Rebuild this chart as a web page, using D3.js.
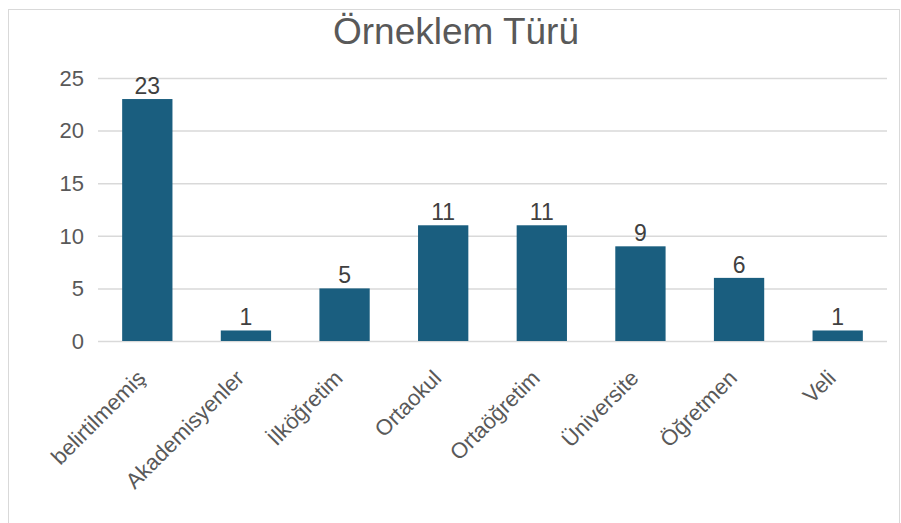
<!DOCTYPE html>
<html>
<head>
<meta charset="utf-8">
<script src="https://cdn.jsdelivr.net/npm/d3@7"></script>
<style>
  body { margin: 0; background: #fff; }
  text { font-family: "Liberation Sans", Arial, sans-serif; }
</style>
</head>
<body>
<div id="vis"></div>
<script>
'use strict'

// data
const categories = ["belirtilmemiş", "Akademisyenler", "İlköğretim", "Ortaokul", "Ortaöğretim", "Üniversite", "Öğretmen", "Veli"];
const counts = [23, 1, 5, 11, 11, 9, 6, 1];
const yTicks = [0, 5, 10, 15, 20, 25];
const title = "Örneklem Türü";

const width = 901, height = 523;
const margin = { top: 78, right: 14, bottom: 182, left: 98 };

const svg = d3.select('#vis').append('svg')
  .attr('width', width)
  .attr('height', height);

// chart border
svg.append('rect')
  .attr('x', 8.5).attr('y', 9.5)
  .attr('width', 891).attr('height', 530)
  .attr('fill', '#fff')
  .attr('stroke', '#d9d9d9');

const x = d3.scaleBand()
  .domain(categories)
  .range([margin.left, width - margin.right])
  .paddingInner(0.49)
  .paddingOuter(0.245);

const y = d3.scaleLinear()
  .domain([0, 25])
  .range([height - margin.bottom, margin.top]);

// gridlines
svg.append('g')
  .selectAll('line')
  .data(yTicks)
  .join('line')
  .attr('x1', margin.left)
  .attr('x2', width - margin.right)
  .attr('y1', d => y(d) + 0.5)
  .attr('y2', d => y(d) + 0.5)
  .attr('stroke', '#d9d9d9')
  .attr('stroke-width', 1.5);

// y tick labels
svg.append('g')
  .selectAll('text')
  .data(yTicks)
  .join('text')
  .attr('x', margin.left - 14)
  .attr('y', d => y(d))
  .attr('dy', '0.35em')
  .attr('text-anchor', 'end')
  .attr('fill', '#595959')
  .attr('font-size', 22)
  .text(d => d);

// bars
svg.append('g')
  .selectAll('rect')
  .data(categories)
  .join('rect')
  .attr('x', d => x(d))
  .attr('y', (d, i) => y(counts[i]))
  .attr('width', x.bandwidth())
  .attr('height', (d, i) => y(0) - y(counts[i]))
  .attr('fill', '#1a5e7f');

// value labels
svg.append('g')
  .selectAll('text')
  .data(categories)
  .join('text')
  .attr('x', d => x(d) + x.bandwidth() / 2)
  .attr('y', (d, i) => y(counts[i]) - 5)
  .attr('text-anchor', 'middle')
  .attr('fill', '#404040')
  .attr('font-size', 23)
  .text((d, i) => counts[i]);

// x labels
svg.append('g')
  .selectAll('text')
  .data(categories)
  .join('text')
  .attr('transform', d => `translate(${x(d) + x.bandwidth() / 2 - 6},${y(0) + 33}) rotate(-45)`)
  .attr('text-anchor', 'end')
  .attr('dy', '0.35em')
  .attr('fill', '#595959')
  .attr('font-size', 22)
  .text(d => d);

// title
svg.append('text')
  .attr('x', 456)
  .attr('y', 44)
  .attr('text-anchor', 'middle')
  .attr('fill', '#595959')
  .attr('font-size', 37)
  .text(title);
</script>
</body>
</html>
